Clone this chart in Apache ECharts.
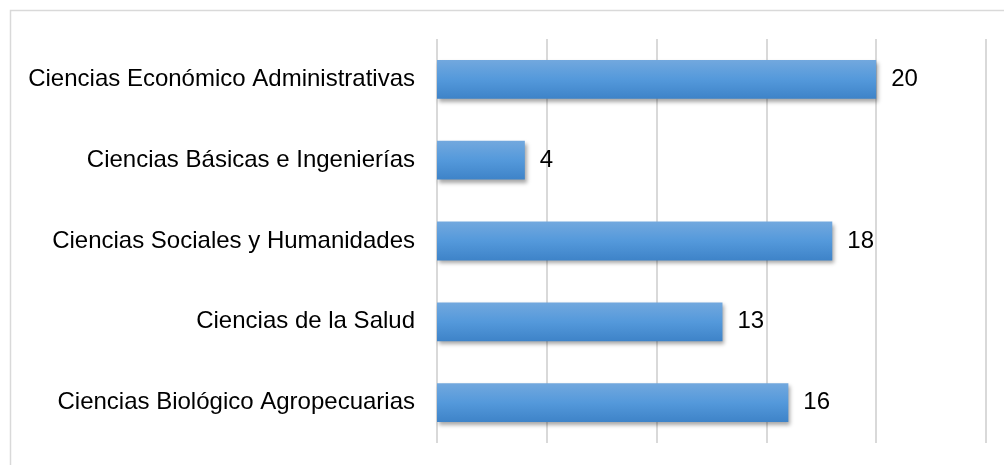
<!DOCTYPE html>
<html>
<head>
<meta charset="utf-8">
<script src="https://cdn.jsdelivr.net/npm/echarts@6/dist/echarts.min.js"></script>
<style>
  html, body { margin: 0; padding: 0; background: #fff; }
  #chart { width: 1004px; height: 465px; }
</style>
</head>
<body>
<div id="chart"></div>
<script>
const categories = [
  'Ciencias Biológico Agropecuarias',
  'Ciencias de la Salud',
  'Ciencias Sociales y Humanidades',
  'Ciencias Básicas e Ingenierías',
  'Ciencias Económico Administrativas'
];
const values = [16, 13, 18, 4, 20];

const getOption = () => {
  return {
    animation: false,
    textStyle: { fontFamily: 'Liberation Sans, Arial, sans-serif' },
    graphic: [
      {
        type: 'rect',
        shape: { x: 10.5, y: 10.5, width: 1100, height: 600 },
        style: { fill: 'none', stroke: '#d9d9d9', lineWidth: 1.5 },
        silent: true
      }
    ],
    grid: { left: 437, right: 18, top: 39, bottom: 22 },
    xAxis: {
      type: 'value',
      min: 0,
      max: 25,
      interval: 5,
      axisLabel: { show: false },
      axisLine: { show: false },
      axisTick: { show: false },
      splitLine: { show: true, lineStyle: { color: '#d9d9d9', width: 2 } }
    },
    yAxis: {
      type: 'category',
      data: categories,
      axisLine: { show: false },
      axisTick: { show: false },
      axisLabel: { color: '#000', fontSize: 24, margin: 22 }
    },
    series: [
      {
        type: 'bar',
        data: values,
        barWidth: '48%',
        itemStyle: {
          color: new echarts.graphic.LinearGradient(0, 0, 0, 1, [
            { offset: 0, color: '#72a8de' },
            { offset: 0.5, color: '#5499db' },
            { offset: 1, color: '#3e83c8' }
          ]),
          shadowColor: 'rgba(0,0,0,0.35)',
          shadowBlur: 4,
          shadowOffsetX: 2,
          shadowOffsetY: 3
        },
        label: {
          show: true,
          position: 'right',
          distance: 15,
          color: '#000',
          fontSize: 24
        }
      }
    ]
  };
};

const initCharts = () => {
  const chart = echarts.init(document.getElementById('chart'));
  chart.setOption(getOption());
};

window.addEventListener('load', () => {
  initCharts();
});
</script>
</body>
</html>
